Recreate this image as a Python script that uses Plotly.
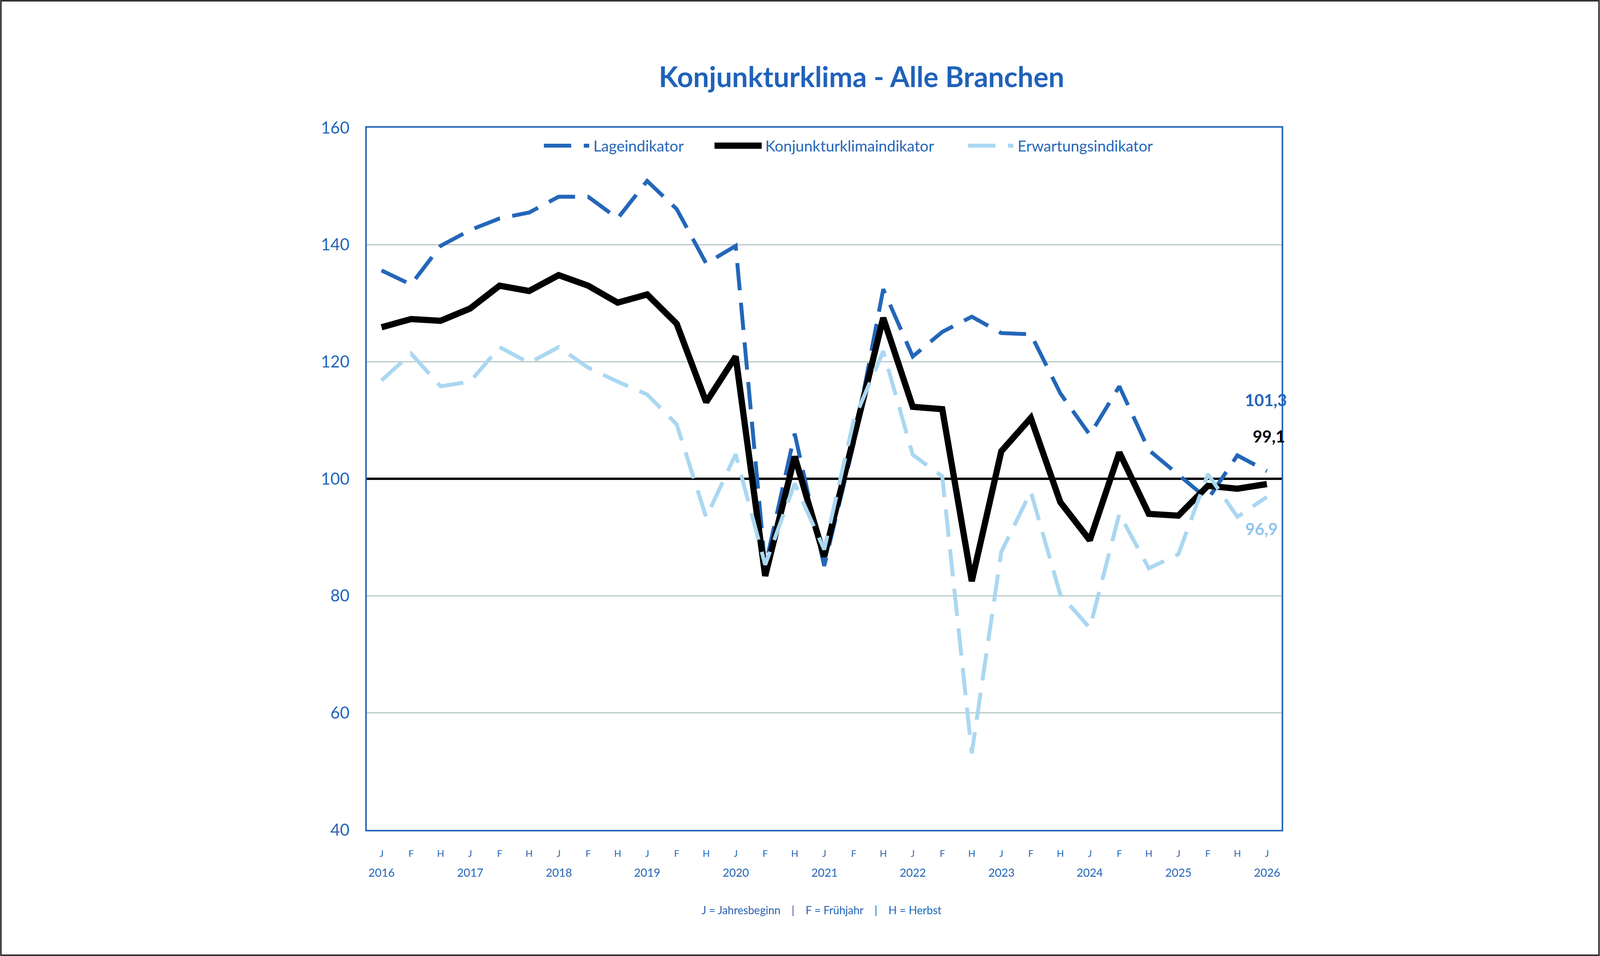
import plotly.graph_objects as go

# Konjunkturklima - Alle Branchen, Umfragen J/F/H 2016 bis J 2026
years = [2016, 2017, 2018, 2019, 2020, 2021, 2022, 2023, 2024, 2025, 2026]
seasons = ["J", "F", "H"]

periods = []
for y in years:
    for s in seasons:
        if y == 2026 and s != "J":
            continue
        periods.append(f"{s} {y}")
season_labels = [p.split(" ")[0] for p in periods]

lage = [135.6, 133.2, 139.8, 142.5, 144.5, 145.5, 148.2, 148.2, 144.5, 150.9, 146.1,
        136.8, 139.8, 85.0, 107.7, 85.1, 106.0, 132.4, 120.9, 125.1, 127.7, 124.9,
        124.7, 114.6, 107.5, 115.8, 104.9, 100.8, 96.5, 104.0, 101.3]
klima = [125.9, 127.3, 127.0, 129.1, 133.0, 132.1, 134.8, 133.0, 130.1, 131.5, 126.5,
         113.1, 120.9, 83.4, 103.8, 86.7, 107.0, 127.5, 112.3, 111.9, 82.5, 104.7,
         110.4, 96.0, 89.5, 104.5, 94.0, 93.7, 98.8, 98.3, 99.1]
erwartung = [116.8, 121.4, 115.8, 116.6, 122.5, 119.8, 122.5, 119.0, 116.6, 114.4, 109.3,
             93.4, 104.2, 85.3, 99.2, 87.9, 110.0, 121.8, 104.1, 100.4, 53.1, 87.5,
             97.8, 80.2, 74.5, 94.0, 84.7, 87.1, 100.8, 93.5, 96.9]
grid_values = [60, 80, 120, 140]
baseline = 100

BLUE = "#2366B9"
LIGHT = "#AAD7F1"
FONT = "Lato"

# the browser shows the page 4096 css px wide and 2448 high;
# positions below are measured on the 5898 x 2448 original
W, H = 5898, 2448
FW, FH = 4096, 2448
KX = W / FW
L, R, T, B = 1352, 1173, 327, 323
pw, ph = W - L - R, H - T - B

def sx(v):
    return v / KX

def px(x):
    return (x - L) / pw

def py(y):
    return (H - B - y) / ph

DASH = "70px,32px"

fig = go.Figure()
fig.add_trace(go.Scatter(x=periods, y=lage, mode="lines", name="Lageindikator",
                         line=dict(color=BLUE, width=10, dash=DASH)))
fig.add_trace(go.Scatter(x=periods, y=klima, mode="lines", name="Konjunkturklimaindikator",
                         line=dict(color="black", width=16)))
fig.add_trace(go.Scatter(x=periods, y=erwartung, mode="lines", name="Erwartungsindikator",
                         line=dict(color=LIGHT, width=10, dash=DASH)))

fig.update_layout(
    width=FW, height=FH,
    margin=dict(l=sx(L), r=sx(R), t=T, b=B, pad=0),
    plot_bgcolor="white", paper_bgcolor="white",
    showlegend=False,
    font=dict(family=FONT, color=BLUE),
    title=dict(text="<b>Konjunkturklima - Alle Branchen</b>", x=3176 / W, xanchor="center",
               y=1 - 198 / H, yanchor="middle", font=dict(size=72, color="#1F62B9", family=FONT)),
)

fig.update_xaxes(type="category", range=[-0.5, len(periods) - 0.5],
                 tickvals=periods, ticktext=season_labels,
                 tickfont=dict(size=24, color=BLUE), ticklabelstandoff=36,
                 showgrid=False, showline=True, linecolor="#2566B6", linewidth=4, mirror=True,
                 ticks="")
fig.update_yaxes(range=[40, 160], dtick=20, tickfont=dict(size=42, color=BLUE),
                 ticklabelstandoff=32, showgrid=False,
                 zeroline=False, showline=True, linecolor="#2566B6", linewidth=4, mirror=True,
                 ticks="")

# horizontal grid lines and the black line at 100
for g in grid_values:
    fig.add_shape(type="line", xref="paper", x0=0, x1=1, yref="y", y0=g, y1=g,
                  line=dict(color="#B6C8C4", width=3), layer="below")
fig.add_shape(type="line", xref="paper", x0=0, x1=1, yref="y", y0=baseline, y1=baseline,
              line=dict(color="black", width=6), layer="below")

# year labels under the J ticks
for y in years:
    fig.add_annotation(x=f"J {y}", xref="x", y=0, yref="paper", yanchor="middle",
                       yshift=-108, text=str(y), showarrow=False,
                       font=dict(size=29, color=BLUE))

sep = "&nbsp;" * 4 + "|" + "&nbsp;" * 4
fig.add_annotation(x=px(3028), xref="paper", y=0, yref="paper", yanchor="middle",
                   yshift=-205, showarrow=False,
                   text="J = Jahresbeginn" + sep + "F = Frühjahr" + sep + "H = Herbst",
                   font=dict(size=28, color=BLUE))

# end labels
fig.add_annotation(x=periods[-1], y=lage[-1], yshift=183, xshift=-sx(4), showarrow=False,
                   text="<b>101,3</b>", font=dict(size=42, color=BLUE))
fig.add_annotation(x=periods[-1], y=klima[-1], yshift=122, xshift=sx(7), showarrow=False,
                   text="<b>99,1</b>", font=dict(size=42, color="black"))
fig.add_annotation(x=periods[-1], y=erwartung[-1], yshift=-82, xshift=-sx(20), showarrow=False,
                   text="<b>96,9</b>", font=dict(size=42, color="#8FC5EC"))

# legend drawn by hand so the line samples are long like the original
leg_y = py(373)
legend_items = [
    ("Lageindikator", BLUE, 10, DASH, 2005, 2172, 2184),
    ("Konjunkturklimaindikator", "black", 16, "solid", 2634, 2808, 2818),
    ("Erwartungsindikator", LIGHT, 10, DASH, 3569, 3736, 3748),
]
for name, col, w, dash, x0, x1, xt in legend_items:
    fig.add_shape(type="line", xref="paper", yref="paper", x0=px(x0), x1=px(x1),
                  y0=leg_y, y1=leg_y, line=dict(color=col, width=w, dash=dash))
    fig.add_annotation(x=px(xt), y=leg_y, xref="paper", yref="paper", xanchor="left",
                       yanchor="middle", text=name, showarrow=False,
                       font=dict(size=39, color=BLUE))

# thin frame around the whole picture
fig.add_shape(type="rect", xref="paper", yref="paper",
              x0=px(3), x1=px(W - 3), y0=py(H - 2), y1=py(2),
              line=dict(color="#333333", width=4))

fig.write_html("out.html", config={"displayModeBar": False},
               post_script="document.body.style.margin='0';document.body.style.overflow='hidden';")
